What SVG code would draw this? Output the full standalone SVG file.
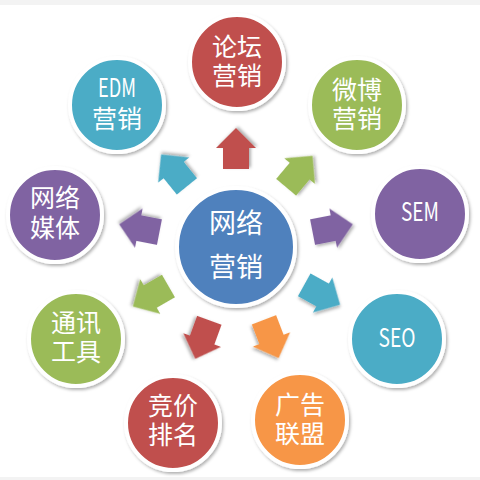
<svg xmlns="http://www.w3.org/2000/svg" width="480" height="480" viewBox="0 0 480 480">
<defs>
<filter id="sh" x="-20%" y="-20%" width="140%" height="140%">
<feDropShadow dx="1.5" dy="2" stdDeviation="1.8" flood-color="#000" flood-opacity="0.3"/>
</filter>
<polygon id="arr" points="119,0 99,-20 99,-13 78,-13 78,13 99,13 99,20"/>
</defs>
<style>
.c{stroke:#fff;stroke-width:4;filter:url(#sh)}
.t{font-family:"Noto Sans CJK SC","Noto Sans",sans-serif;font-size:25px;fill:#fff;text-anchor:middle}
.big{font-size:27px}
.red{fill:#c0504d}.grn{fill:#9bbb59}.pur{fill:#8064a2}.tea{fill:#4bacc6}.org{fill:#f79646}.blu{fill:#4f81bd}
.a{filter:url(#sh)}
</style>
<rect x="0" y="0" width="480" height="480" fill="#fff"/>
<rect x="0" y="0" width="480" height="5" fill="#f3f3f3"/>
<rect x="0" y="477" width="480" height="3" fill="#f3f3f3"/>
<g id="connectors">
<use href="#arr" class="a red" transform="translate(236,247) rotate(-90)"/>
<use href="#arr" class="a grn" transform="translate(236,247) rotate(-50)"/>
<use href="#arr" class="a pur" transform="translate(236,247) rotate(-11)"/>
<use href="#arr" class="a tea" transform="translate(236,247) rotate(29)"/>
<use href="#arr" class="a org" transform="translate(236,247) rotate(69)"/>
<use href="#arr" class="a red" transform="translate(236,247) rotate(110)"/>
<use href="#arr" class="a grn" transform="translate(236,247) rotate(150)"/>
<use href="#arr" class="a pur" transform="translate(236,247) rotate(191)"/>
<use href="#arr" class="a tea" transform="translate(236,247) rotate(-129)"/>
</g>
<g id="center">
<circle class="c blu" cx="236" cy="247" r="59"/>
<text class="t big" x="236" y="233">网络<tspan x="236" dy="44">营销</tspan></text>
</g>
<g id="luntan">
<circle class="c red" cx="237" cy="62" r="47"/>
<text class="t" x="237" y="56">论坛<tspan x="237" dy="29">营销</tspan></text>
</g>
<g id="weibo">
<circle class="c grn" cx="357" cy="105" r="47"/>
<text class="t" x="357" y="99">微博<tspan x="357" dy="29">营销</tspan></text>
</g>
<g id="sem">
<circle class="c pur" cx="420" cy="214" r="47"/>
<text class="t" x="420" y="221" textLength="38" lengthAdjust="spacingAndGlyphs">SEM</text>
</g>
<g id="seo">
<circle class="c tea" cx="397" cy="339" r="47"/>
<text class="t" x="397" y="347" textLength="37" lengthAdjust="spacingAndGlyphs">SEO</text>
</g>
<g id="guanggao">
<circle class="c org" cx="300" cy="420" r="47"/>
<text class="t" x="300" y="414">广告<tspan x="300" dy="29">联盟</tspan></text>
</g>
<g id="jingjia">
<circle class="c red" cx="173" cy="423" r="47"/>
<text class="t" x="173" y="415">竞价<tspan x="173" dy="29">排名</tspan></text>
</g>
<g id="tongxun">
<circle class="c grn" cx="76" cy="339" r="47"/>
<text class="t" x="76" y="332">通讯<tspan x="76" dy="29">工具</tspan></text>
</g>
<g id="meiti">
<circle class="c pur" cx="55" cy="215" r="47"/>
<text class="t" x="55" y="207">网络<tspan x="55" dy="30">媒体</tspan></text>
</g>
<g id="edm">
<circle class="c tea" cx="117" cy="105" r="47"/>
<text class="t" x="117" y="97"><tspan textLength="38" lengthAdjust="spacingAndGlyphs">EDM</tspan><tspan x="117" dy="31">营销</tspan></text>
</g>
</svg>
